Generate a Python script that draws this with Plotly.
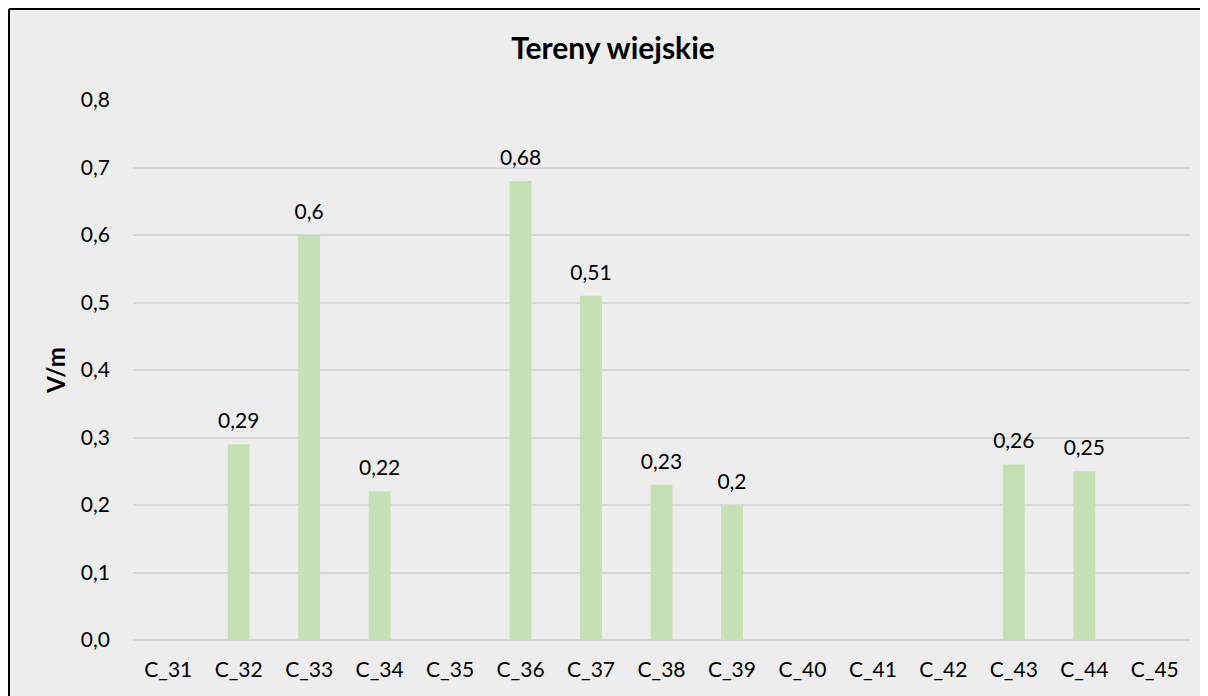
import plotly.graph_objects as go

categories = ["C_31", "C_32", "C_33", "C_34", "C_35", "C_36", "C_37", "C_38",
              "C_39", "C_40", "C_41", "C_42", "C_43", "C_44", "C_45"]
values = [None, 0.29, 0.6, 0.22, None, 0.68, 0.51, 0.23,
          0.2, None, None, None, 0.26, 0.25, None]
labels = ["" if v is None else str(v).replace(".", ",") for v in values]

# page body has an 8px margin
W, H = 1200, 688
ml, mr, mt, mb = 125, 18, 92, 56
pw, ph = W - ml - mr, H - mt - mb

FONT = "Lato, 'Open Sans', sans-serif"

fig = go.Figure()
fig.add_trace(go.Bar(
    x=categories, y=values,
    marker=dict(color="#c5e0b4", line=dict(width=0)), width=0.31,
    hoverinfo="skip",
))
fig.add_trace(go.Scatter(
    x=categories, y=values, mode="markers+text", text=labels,
    textposition="top center",
    marker=dict(size=16, color="rgba(0,0,0,0)"),
    textfont=dict(size=21, color="#000000", family=FONT),
    cliponaxis=False, hoverinfo="skip",
))

fig.update_layout(
    width=W, height=H,
    margin=dict(l=ml, r=mr, t=mt, b=mb),
    paper_bgcolor="#ededed", plot_bgcolor="#ededed",
    separators=",.",
    font=dict(family=FONT, size=21, color="#000000"),
    title=dict(text="<b>Tereny wiejskie</b>", x=(613 - 8) / W, xanchor="center",
               xref="container", yref="container", y=1 - 40 / H, yanchor="middle",
               font=dict(size=30)),
    showlegend=False,
)
fig.update_xaxes(showgrid=False, showline=False, ticks="", tickfont=dict(size=21),
                 ticklabelstandoff=15, range=[-0.5, len(categories) - 0.5])
fig.update_yaxes(range=[0, 0.8], dtick=0.1, tickformat=".1f", showgrid=True,
                 gridcolor="#d9d9d9", gridwidth=1.5, zeroline=True,
                 zerolinecolor="#d9d9d9", zerolinewidth=1.5, showline=False,
                 ticks="", ticklabelstandoff=22, tickfont=dict(size=21),
                 title=dict(text="<b>V/m</b>", font=dict(size=24), standoff=8))

# outer chart frame: top and left edges (right/bottom fall outside the view)
x_left = (1 - ml) / pw
x_right = (W + 20 - ml) / pw
y_top = (H - mb - 1) / ph
y_bottom = (H - mb - 720) / ph
fig.add_shape(type="line", xref="paper", yref="paper",
              x0=x_left, x1=x_right, y0=y_top, y1=y_top,
              line=dict(color="#000000", width=2))
fig.add_shape(type="line", xref="paper", yref="paper",
              x0=x_left, x1=x_left, y0=y_bottom, y1=y_top,
              line=dict(color="#000000", width=2))

fig.write_html("out.html")
